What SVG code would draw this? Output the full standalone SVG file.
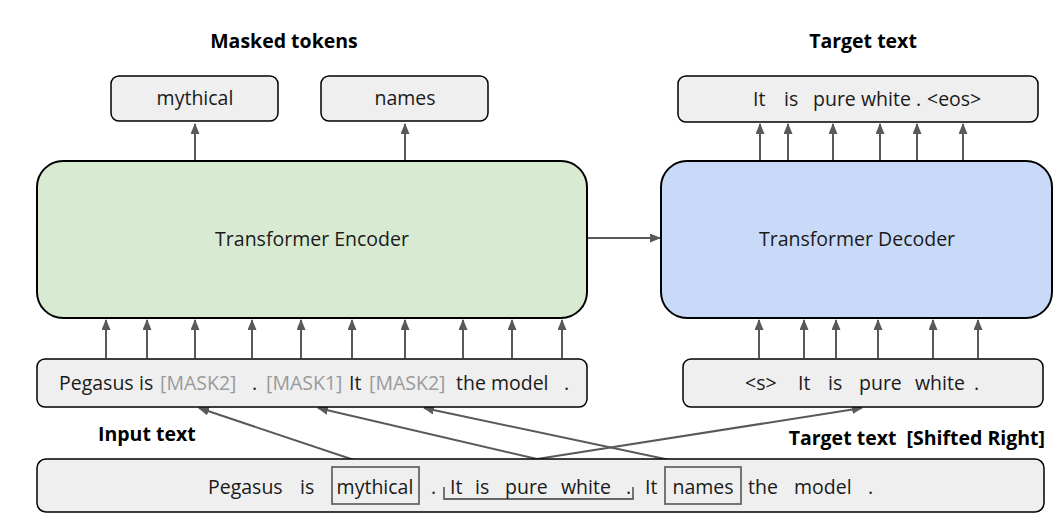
<svg xmlns="http://www.w3.org/2000/svg" width="1057" height="527" viewBox="0 0 1057 527">
  <defs>
    <marker id="arrow" markerUnits="userSpaceOnUse" markerWidth="11" markerHeight="9" refX="10" refY="4.5" orient="auto">
      <path d="M0,0 L11,4.5 L0,9 z" fill="#595959"/>
    </marker>
    <style>
      .txt { font-family: "Open Sans", "Liberation Sans", sans-serif; font-size: 19.5px; fill: #1a1a1a; }
      .title { font-family: "Open Sans", "Liberation Sans", sans-serif; font-size: 19.5px; font-weight: bold; fill: #000; }
      .mask { fill: #9a9a9a; }
      .box { fill: #efefef; stroke: #000; stroke-width: 1.5; }
      .enc { fill: #d9ead3; stroke: #000; stroke-width: 2; }
      .dec { fill: #c9daf8; stroke: #000; stroke-width: 2; }
      .hl { fill: none; stroke: #666; stroke-width: 1.8; }
      .conn { stroke: #595959; stroke-width: 2; fill: none; marker-end: url(#arrow); }
    </style>
  </defs>
  <rect width="1057" height="527" fill="#fff"/>

  <!-- Section titles -->
  <text class="title" x="284" y="48" text-anchor="middle">Masked tokens</text>
  <text class="title" x="863" y="48" text-anchor="middle">Target text</text>
  <text class="title" x="98" y="441">Input text</text>
  <text class="title" x="1045" y="445" text-anchor="end" xml:space="preserve">Target text  [Shifted Right]</text>

  <!-- Connectors -->
  <g id="connectors">
    <!-- encoder to masked tokens -->
    <line class="conn" x1="195" y1="160" x2="195" y2="124"/>
    <line class="conn" x1="405" y1="160" x2="405" y2="124"/>
    <!-- decoder to target text -->
    <line class="conn" x1="760" y1="160" x2="760" y2="124"/>
    <line class="conn" x1="788" y1="160" x2="788" y2="124"/>
    <line class="conn" x1="833" y1="160" x2="833" y2="124"/>
    <line class="conn" x1="880" y1="160" x2="880" y2="124"/>
    <line class="conn" x1="917" y1="160" x2="917" y2="124"/>
    <line class="conn" x1="963" y1="160" x2="963" y2="124"/>
    <!-- encoder to decoder -->
    <line class="conn" x1="588" y1="238" x2="660" y2="238"/>
    <!-- input tokens to encoder -->
    <line class="conn" x1="106" y1="358" x2="106" y2="320"/>
    <line class="conn" x1="147" y1="358" x2="147" y2="320"/>
    <line class="conn" x1="195" y1="358" x2="195" y2="320"/>
    <line class="conn" x1="252" y1="358" x2="252" y2="320"/>
    <line class="conn" x1="301" y1="358" x2="301" y2="320"/>
    <line class="conn" x1="352" y1="358" x2="352" y2="320"/>
    <line class="conn" x1="405" y1="358" x2="405" y2="320"/>
    <line class="conn" x1="463" y1="358" x2="463" y2="320"/>
    <line class="conn" x1="512" y1="358" x2="512" y2="320"/>
    <line class="conn" x1="562" y1="358" x2="562" y2="320"/>
    <!-- shifted target tokens to decoder -->
    <line class="conn" x1="759" y1="358" x2="759" y2="320"/>
    <line class="conn" x1="804" y1="358" x2="804" y2="320"/>
    <line class="conn" x1="836" y1="358" x2="836" y2="320"/>
    <line class="conn" x1="878" y1="358" x2="878" y2="320"/>
    <line class="conn" x1="933" y1="358" x2="933" y2="320"/>
    <line class="conn" x1="978" y1="358" x2="978" y2="320"/>
    <!-- source spans to masked positions -->
    <line class="conn" x1="375" y1="467" x2="199" y2="408"/>
    <line class="conn" x1="537" y1="459" x2="318" y2="408"/>
    <line class="conn" x1="703" y1="467" x2="424" y2="408"/>
    <line class="conn" x1="537" y1="459" x2="862" y2="408"/>
  </g>

  <!-- Masked token outputs -->
  <g id="out-mythical">
    <rect class="box" x="111" y="76" width="167" height="45" rx="8"/>
    <text class="txt" x="195" y="105" text-anchor="middle">mythical</text>
  </g>
  <g id="out-names">
    <rect class="box" x="321" y="76" width="167" height="45" rx="8"/>
    <text class="txt" x="405" y="105" text-anchor="middle">names</text>
  </g>

  <!-- Decoder output -->
  <g id="target-text">
    <rect class="box" x="678" y="76" width="360" height="46" rx="8"/>
    <text class="txt" x="753" y="106">It</text>
    <text class="txt" x="784" y="106">is</text>
    <text class="txt" x="813" y="106">pure</text>
    <text class="txt" x="861" y="106">white</text>
    <text class="txt" x="916" y="106">.</text>
    <text class="txt" x="927" y="106">&lt;eos&gt;</text>
  </g>

  <!-- Encoder -->
  <g id="encoder">
    <rect class="enc" x="37" y="161" width="550" height="157" rx="26"/>
    <text class="txt" x="312" y="246" text-anchor="middle">Transformer Encoder</text>
  </g>

  <!-- Decoder -->
  <g id="decoder">
    <rect class="dec" x="661" y="161" width="391" height="157" rx="26"/>
    <text class="txt" x="857" y="246" text-anchor="middle">Transformer Decoder</text>
  </g>

  <!-- Corrupted encoder input -->
  <g id="input-text">
    <rect class="box" x="37" y="359" width="550" height="48" rx="8"/>
    <text class="txt" x="59" y="390">Pegasus</text>
    <text class="txt" x="139" y="390">is</text>
    <text class="txt mask" x="160" y="390">[MASK2]</text>
    <text class="txt" x="252" y="390">.</text>
    <text class="txt mask" x="266" y="390">[MASK1]</text>
    <text class="txt" x="349" y="390">It</text>
    <text class="txt mask" x="369" y="390">[MASK2]</text>
    <text class="txt" x="456" y="390">the model</text>
    <text class="txt" x="564" y="390">.</text>
  </g>

  <!-- Shifted decoder input -->
  <g id="shifted-target">
    <rect class="box" x="683" y="359" width="360" height="48" rx="8"/>
    <text class="txt" x="745" y="390">&lt;s&gt;</text>
    <text class="txt" x="798" y="390">It</text>
    <text class="txt" x="828" y="390">is</text>
    <text class="txt" x="859" y="390">pure</text>
    <text class="txt" x="915" y="390">white</text>
    <text class="txt" x="974" y="390">.</text>
  </g>

  <!-- Original document -->
  <g id="document">
    <rect class="box" x="37" y="459" width="1007" height="53" rx="9"/>
    <rect class="hl" x="332" y="467" width="87" height="37"/>
    <rect class="hl" x="665" y="467" width="76" height="37"/>
    <path class="hl" d="M444,487 V499 H633 V487" stroke-width="1.5"/>
    <text class="txt" x="208" y="494">Pegasus</text>
    <text class="txt" x="300" y="494">is</text>
    <text class="txt" x="375" y="494" text-anchor="middle">mythical</text>
    <text class="txt" x="431" y="494">.</text>
    <text class="txt" x="450" y="494">It</text>
    <text class="txt" x="475" y="494">is</text>
    <text class="txt" x="505" y="494">pure</text>
    <text class="txt" x="561" y="494">white</text>
    <text class="txt" x="626" y="494">.</text>
    <text class="txt" x="645" y="494">It</text>
    <text class="txt" x="703" y="494" text-anchor="middle">names</text>
    <text class="txt" x="748" y="494">the</text>
    <text class="txt" x="794" y="494">model</text>
    <text class="txt" x="868" y="494">.</text>
  </g>
</svg>
